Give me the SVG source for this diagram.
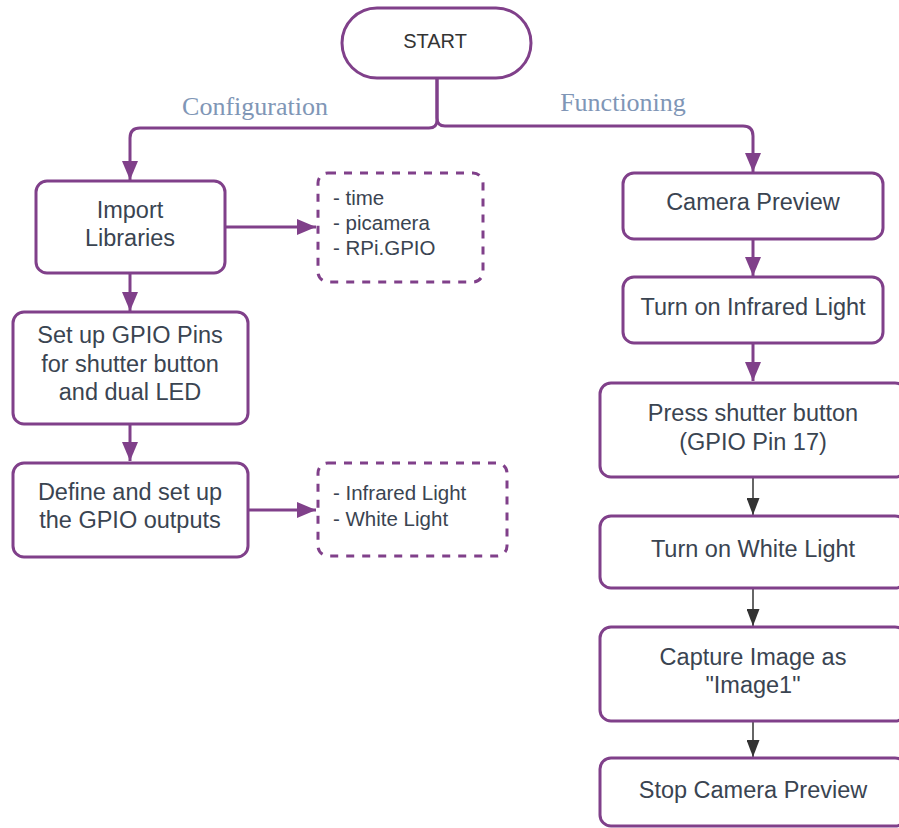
<svg xmlns="http://www.w3.org/2000/svg" width="899" height="828" viewBox="0 0 899 828">
<style>
.box{fill:#ffffff;stroke:#80408a;stroke-width:3}
.dash{fill:none;stroke:#80408a;stroke-width:3;stroke-dasharray:8 8}
.t{font-family:"Liberation Sans",Arial,sans-serif;font-size:23.5px;fill:#3a4451;text-anchor:middle}
.l{font-family:"Liberation Sans",Arial,sans-serif;font-size:20.5px;fill:#3a4451}
.lab{font-family:"Liberation Serif","Times New Roman",serif;font-size:26px;fill:#8096b6;text-anchor:middle}
.c{fill:none;stroke:#80408a;stroke-width:3}
.k{fill:none;stroke:#333333;stroke-width:1.5}
</style>
<defs>
<marker id="pa" markerUnits="userSpaceOnUse" markerWidth="19" markerHeight="16" refX="19" refY="8" orient="auto">
<path d="M0,0 L19,8 L0,16 z" fill="#80408a"/>
</marker>
<marker id="ka" markerUnits="userSpaceOnUse" markerWidth="17" markerHeight="13" refX="17" refY="6.5" orient="auto">
<path d="M0,0 L17,6.5 L0,13 z" fill="#333333"/>
</marker>
</defs>
<rect width="899" height="828" fill="#ffffff"/>
<g id="connectors">
<path class="c" d="M437,78 V120 Q437,128 429,128 H140 Q130,128 130,138 V180" marker-end="url(#pa)"/>
<path class="c" d="M437,78 V118 Q437,126 445,126 H743 Q753,126 753,136 V172" marker-end="url(#pa)"/>
<path class="c" d="M225,227 H316" marker-end="url(#pa)"/>
<path class="c" d="M130,273 V311" marker-end="url(#pa)"/>
<path class="c" d="M130,424 V461" marker-end="url(#pa)"/>
<path class="c" d="M248,510 H316" marker-end="url(#pa)"/>
<path class="c" d="M753,239 V276" marker-end="url(#pa)"/>
<path class="c" d="M753,343 V381" marker-end="url(#pa)"/>
<path class="k" d="M753,477 V515" marker-end="url(#ka)"/>
<path class="k" d="M753,588 V626" marker-end="url(#ka)"/>
<path class="k" d="M753,721 V757" marker-end="url(#ka)"/>
<text class="lab" x="255" y="115">Configuration</text>
<text class="lab" x="623" y="111">Functioning</text>
</g>
<g id="start">
<rect class="box" x="342" y="8" width="189" height="70" rx="35"/>
<text x="435" y="48" style="font-family:'Liberation Sans',Arial,sans-serif;font-size:20px;fill:#333333;text-anchor:middle">START</text>
</g>
<g id="import">
<rect class="box" x="36" y="181" width="189" height="92" rx="11"/>
<text class="t" x="130" y="218">Import</text>
<text class="t" x="130" y="246">Libraries</text>
</g>
<g id="libs">
<rect class="dash" x="318" y="173" width="165" height="109" rx="10"/>
<text class="l" x="333" y="205">- time</text>
<text class="l" x="333" y="230">- picamera</text>
<text class="l" x="333" y="255">- RPi.GPIO</text>
</g>
<g id="setup">
<rect class="box" x="13" y="312" width="235" height="112" rx="11"/>
<text class="t" x="130" y="343">Set up GPIO Pins</text>
<text class="t" x="130" y="372">for shutter button</text>
<text class="t" x="130" y="400">and dual LED</text>
</g>
<g id="define">
<rect class="box" x="13" y="463" width="235" height="94" rx="11"/>
<text class="t" x="130" y="500">Define and set up</text>
<text class="t" x="130" y="528">the GPIO outputs</text>
</g>
<g id="lights">
<rect class="dash" x="318" y="463" width="189" height="93" rx="10"/>
<text class="l" x="333" y="500">- Infrared Light</text>
<text class="l" x="333" y="526">- White Light</text>
</g>
<g id="preview">
<rect class="box" x="623" y="173" width="260" height="66" rx="11"/>
<text class="t" x="753" y="210">Camera Preview</text>
</g>
<g id="infrared">
<rect class="box" x="623" y="277" width="260" height="66" rx="11"/>
<text class="t" x="753" y="315">Turn on Infrared Light</text>
</g>
<g id="shutter">
<rect class="box" x="600" y="383" width="306" height="94" rx="11"/>
<text class="t" x="753" y="421">Press shutter button</text>
<text class="t" x="753" y="450">(GPIO Pin 17)</text>
</g>
<g id="white">
<rect class="box" x="600" y="516" width="306" height="72" rx="11"/>
<text class="t" x="753" y="557">Turn on White Light</text>
</g>
<g id="capture">
<rect class="box" x="600" y="627" width="306" height="94" rx="11"/>
<text class="t" x="753" y="665">Capture Image as</text>
<text class="t" x="753" y="693">"Image1"</text>
</g>
<g id="stop">
<rect class="box" x="600" y="758" width="306" height="68" rx="11"/>
<text class="t" x="753" y="798">Stop Camera Preview</text>
</g>
</svg>
